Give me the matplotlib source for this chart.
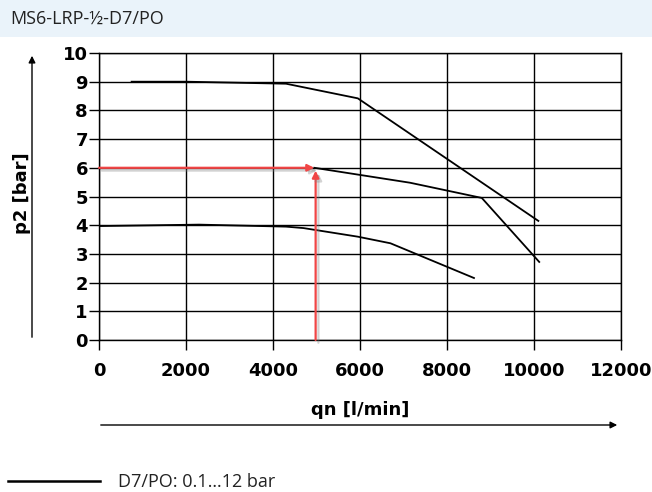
import matplotlib
matplotlib.use("Agg")
import matplotlib.pyplot as plt
import matplotlib.patheffects as pe
from matplotlib.patches import Rectangle

# Flow characteristic curves
q_9bar = [750, 2000, 4300, 5950, 10100]
p_9bar = [9.0, 9.0, 8.93, 8.42, 4.15]

q_6bar = [4950, 7150, 8800, 10120]
p_6bar = [6.0, 5.48, 4.95, 2.72]

q_4bar = [0, 2300, 4300, 4700, 5950, 6700, 8620]
p_4bar = [3.97, 4.02, 3.95, 3.9, 3.6, 3.37, 2.16]

# Worked example (red arrows)
example_q = 4980
example_p = 6.0

x_ticks = [0, 2000, 4000, 6000, 8000, 10000, 12000]
y_ticks = list(range(0, 11))

title = "MS6-LRP-½-D7/PO"
x_label = "qn [l/min]"
y_label = "p2 [bar]"
legend_label = "D7/PO: 0.1…12 bar"

narrow = ["Liberation Sans Narrow", "Open Sans", "DejaVu Sans"]

fig = plt.figure(figsize=(6.52, 4.92), dpi=100)

# Header band
fig.patches.append(Rectangle((0, 1 - 37 / 492), 1, 37 / 492, transform=fig.transFigure,
                             facecolor="#eaf3fa", edgecolor="none", zorder=0))
fig.text(10 / 652, 1 - 19 / 492, title, ha="left", va="center", fontsize=13,
         family=narrow, color="#222222")

ax = fig.add_axes((99 / 652, 152 / 492, 522 / 652, 287 / 492))
ax.set_xlim(0, 12000)
ax.set_ylim(0, 10)
ax.set_xticks(x_ticks)
ax.set_yticks(y_ticks)
ax.grid(True, color="black", linewidth=1.0)
for s in ax.spines.values():
    s.set_linewidth(1.0)
ax.tick_params(axis="x", length=7, width=1.0, pad=9, labelsize=13)
ax.tick_params(axis="y", length=7, width=1.0, pad=1, labelsize=13)
for lab in ax.get_xticklabels() + ax.get_yticklabels():
    lab.set_fontweight("bold")

for q, p in [(q_9bar, p_9bar), (q_6bar, p_6bar), (q_4bar, p_4bar)]:
    ax.plot(q, p, color="black", linewidth=1.3, zorder=3)

# Red guide arrows with soft shadow
shadow = [pe.SimpleLineShadow(offset=(2, -2), shadow_color="gray", alpha=0.35), pe.Normal()]
arrow_style = dict(arrowstyle="-|>", color="#f04646", lw=1.6, mutation_scale=10,
                   shrinkA=0, shrinkB=0)
a1 = ax.annotate("", xy=(example_q - 30, example_p), xytext=(0, example_p),
                 arrowprops=arrow_style, zorder=4)
a2 = ax.annotate("", xy=(example_q, example_p - 0.1), xytext=(example_q, 0),
                 arrowprops=arrow_style, zorder=4)
for a in (a1, a2):
    a.arrow_patch.set_path_effects(shadow)

# Axis labels with direction arrows
fig.text(22 / 652, 1 - 193 / 492, y_label, rotation=90, ha="center", va="center",
         fontsize=13, fontweight="bold")
fig.text(360 / 652, 1 - 410 / 492, x_label, ha="center", va="center",
         fontsize=13, fontweight="bold")
fig.add_artist(plt.matplotlib.patches.FancyArrowPatch(
    (32 / 652, 1 - 340 / 492), (32 / 652, 1 - 53 / 492), transform=fig.transFigure,
    arrowstyle="-|>", mutation_scale=10, color="black", lw=1.0))
fig.add_artist(plt.matplotlib.patches.FancyArrowPatch(
    (98 / 652, 1 - 425 / 492), (620 / 652, 1 - 425 / 492), transform=fig.transFigure,
    arrowstyle="-|>", mutation_scale=10, color="black", lw=1.0))

# Legend
fig.add_artist(plt.Line2D([8 / 652, 100 / 652], [1 - 481 / 492, 1 - 481 / 492],
                          transform=fig.transFigure, color="black", lw=1.8))
fig.text(118 / 652, 1 - 482 / 492, legend_label, ha="left", va="center", fontsize=13,
         family=narrow, color="#222222")

fig.savefig("out.png", dpi=100)
